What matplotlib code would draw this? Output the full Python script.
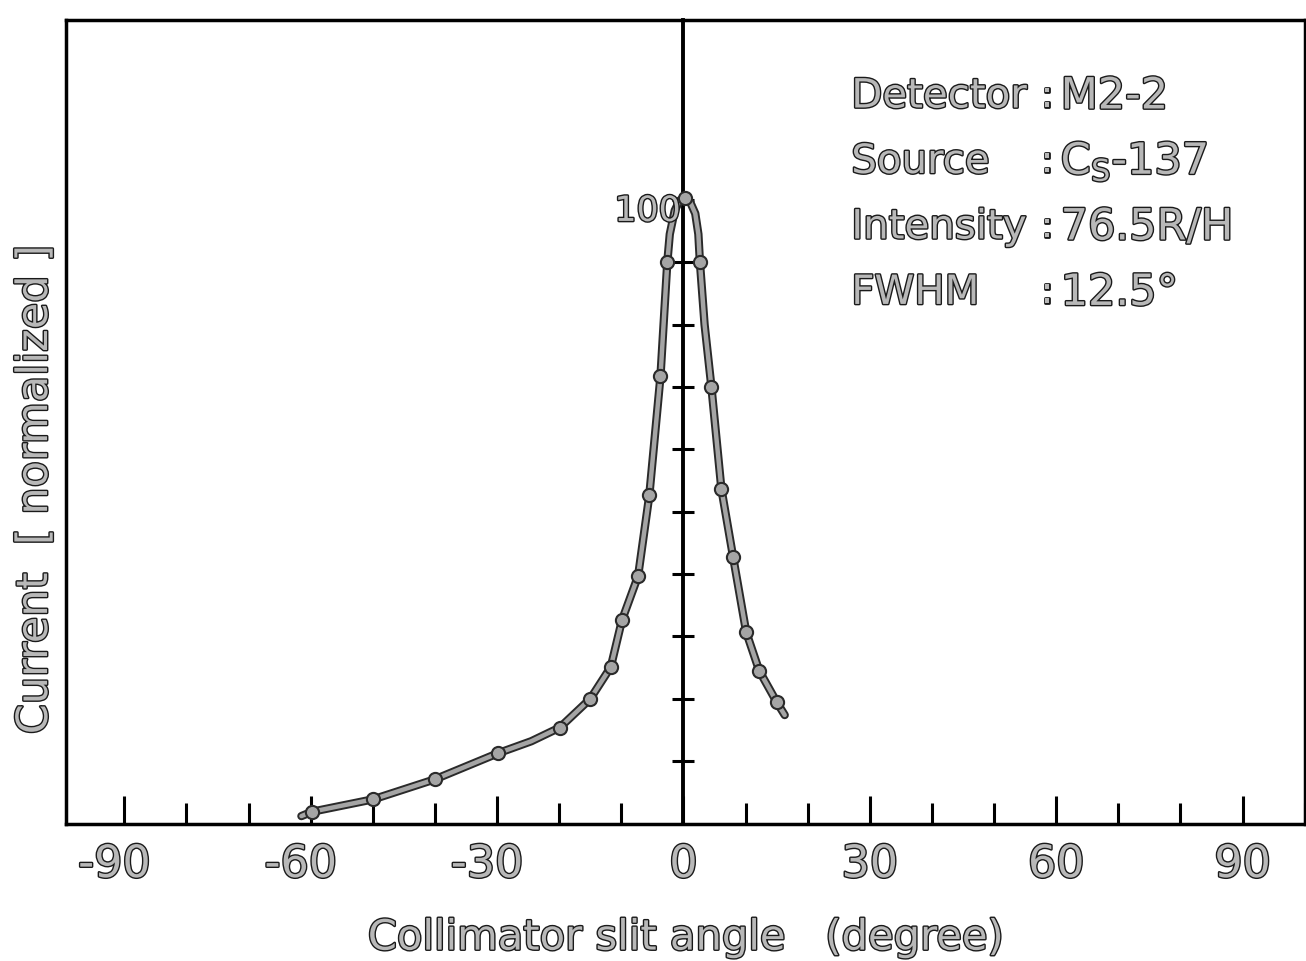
import matplotlib
matplotlib.use('Agg')
import matplotlib.pyplot as plt
import matplotlib.patheffects as pe
import matplotlib.transforms as mtransforms
from matplotlib.ticker import MultipleLocator

# measured points (angle in degree, normalized current)
angle = [-59.8, -49.9, -40.0, -29.8, -19.9, -15.0, -11.7, -9.9, -7.3, -5.5, -3.7, -2.6,
         0.3, 2.65, 4.5, 6.1, 8.0, 10.1, 12.2, 15.0]
current = [1.9, 3.9, 7.1, 11.3, 15.4, 20.0, 25.1, 32.6, 39.7, 52.6, 71.7, 90.0,
           100.3, 90.0, 70.0, 53.7, 42.7, 30.7, 24.5, 19.5]

# hand drawn curve through the points
curve_x = [-61.5, -59.8, -49.9, -40.0, -29.8, -24.5, -19.9, -15.0, -11.7, -9.9, -7.3, -5.5,
           -3.7, -2.6, -2.2, -1.4, -0.6, 0.3, 1.1, 1.9, 2.4, 2.65, 3.4, 4.5, 6.1, 8.0, 10.1,
           12.2, 15.0, 16.3]
curve_y = [1.2, 1.9, 3.9, 7.1, 11.3, 13.2, 15.4, 20.0, 25.1, 32.6, 39.7, 52.6,
           71.7, 90.0, 94.5, 98.3, 99.9, 100.3, 99.6, 97.8, 94.5, 90.0, 80.0, 70.0, 53.7, 42.7, 30.7,
           24.5, 19.5, 17.4]

info_keys = ['Detector', 'Source', 'Intensity', 'FWHM']
info_vals = ['M2-2', r'C$_{\mathrm{S}}$-137', '76.5R/H', '12.5°']

XLIM = (-99.4, 100.0)
YLIM = (0, 128.8)

if __name__ == '__main__':

    plt.rcParams['font.family'] = ['DejaVu Sans']
    plt.rcParams['mathtext.fontset'] = 'dejavusans'

    txt_fx = [pe.withStroke(linewidth=2.0, foreground='#1a1a1a')]
    txt_kw = dict(color='#b8b8b8', path_effects=txt_fx)

    fig = plt.figure(figsize=(13.06, 9.61), dpi=100)
    ax = fig.add_axes([0.0505, 0.143, 0.9485, 0.836])
    ax.set_xlim(*XLIM)
    ax.set_ylim(*YLIM)

    # curve: grey line with dark rim
    ax.plot(curve_x, curve_y, color='#a5a5a5', lw=3.2, solid_capstyle='round',
            path_effects=[pe.Stroke(linewidth=6, foreground='#2a2a2a'), pe.Normal()], zorder=3)
    ax.plot(angle, current, 'o', ms=9.5, mfc='#a5a5a5', mec='#2a2a2a', mew=1.5, zorder=4)

    # vertical scale at angle 0
    loc = (0 - XLIM[0]) / (XLIM[1] - XLIM[0])
    sec = ax.secondary_yaxis(loc)
    sec.spines['left'].set_linewidth(2.8)
    sec.set_yticks(range(10, 101, 10))
    sec.tick_params(direction='inout', length=16, width=2.2, labelleft=False)
    ax.annotate('100', xy=(0, 100), xytext=(-2, -8), textcoords='offset points',
                ha='right', va='center', fontsize=25, **txt_kw)

    # bottom axis
    ax.xaxis.set_major_locator(MultipleLocator(30))
    ax.xaxis.set_minor_locator(MultipleLocator(10))
    ax.tick_params(axis='x', which='major', direction='in', length=20, width=2.2,
                   pad=14, labelsize=32, top=False)
    ax.tick_params(axis='x', which='minor', direction='in', length=15, width=2.2, top=False)
    ticks = ax.get_xticks()
    ax.set_xticklabels([f'{int(t)}' for t in ticks])
    shift = mtransforms.ScaledTranslation(-10 / 100, 0, fig.dpi_scale_trans)
    for t, lab in zip(ticks, ax.get_xticklabels()):
        lab.set_color('#b8b8b8')
        lab.set_path_effects(txt_fx)
        if t < 0:
            lab.set_transform(lab.get_transform() + shift)
    ax.set_yticks([])
    for s in ax.spines.values():
        s.set_linewidth(2.5)

    ax.set_xlabel('Collimator slit angle   (degree)', fontsize=30, labelpad=22, **txt_kw)
    ax.set_ylabel('Current  [ normalized ]', fontsize=31, **txt_kw)
    ax.yaxis.set_label_coords(-0.008, 0.415)

    # info block
    for i, (k, v) in enumerate(zip(info_keys, info_vals)):
        y = 0.905 - i * 0.0815
        ax.text(0.634, y, k, transform=ax.transAxes, fontsize=29, va='center', **txt_kw)
        ax.text(0.787, y, ':', transform=ax.transAxes, fontsize=26, va='center', **txt_kw)
        ax.text(0.803, y, v, transform=ax.transAxes, fontsize=31, va='center', **txt_kw)

    fig.savefig('out.png', dpi=100)
